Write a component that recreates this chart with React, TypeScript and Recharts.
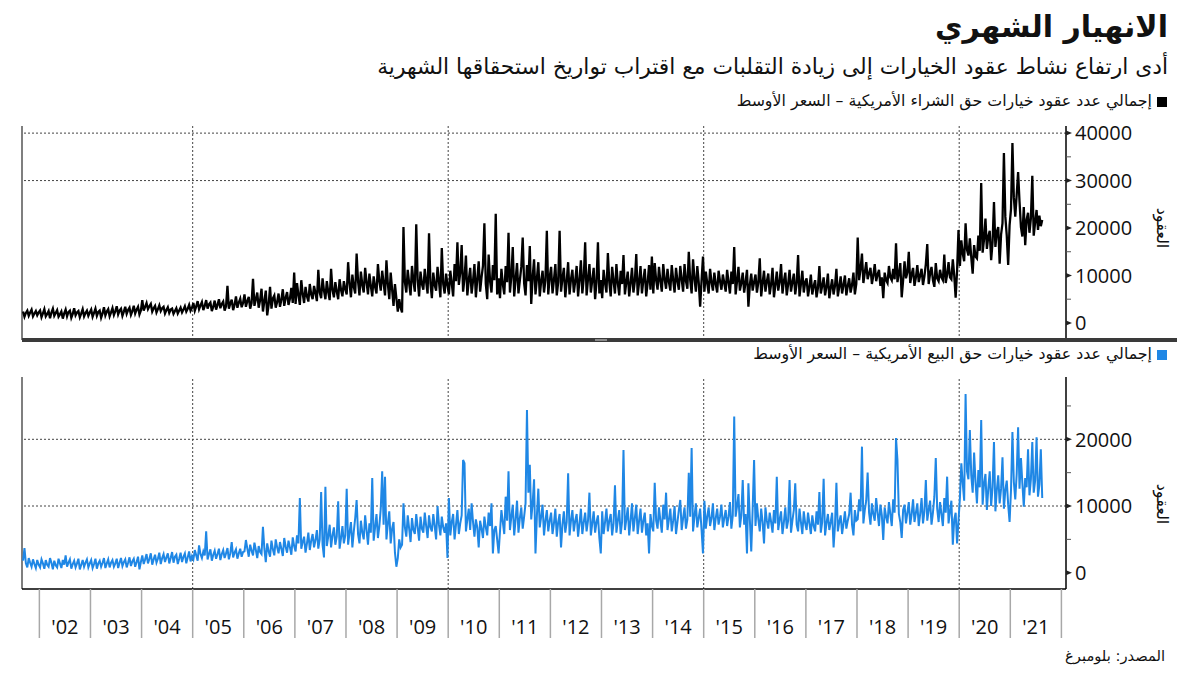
import { LineChart, Line, XAxis, YAxis, ReferenceLine } from 'recharts'

const AR = '"DejaVu Sans", "Noto Sans", sans-serif'
const NUM = '"Open Sans", "DejaVu Sans", sans-serif'

// three readings a month (thousands of contracts); the series begins in September 2001
const FIRST_YEAR = 2001
const FIRST_SLOT = 24
const SLOTS_PER_YEAR = 36

const callsByYear: number[][] = [
  [2.4, 1.3, 2.1, 2.6, 1.5, 2.2, 2.8, 1.4, 2.0, 2.5, 1.6, 2.2],
  [2.6, 1.2, 2.0, 2.9, 1.4, 1.9, 2.5, 1.0, 2.2, 3.0, 1.5, 2.1,
   2.7, 1.3, 1.8, 2.4, 0.9, 2.0, 2.8, 1.4, 2.3, 2.6, 1.1, 1.9,
   3.1, 1.6, 2.2, 2.5, 1.2, 2.0, 2.9, 1.4, 2.1, 2.6, 1.5, 2.2],
  [2.8, 1.3, 2.1, 3.0, 1.5, 2.3, 2.6, 1.1, 2.0, 3.3, 1.6, 2.4,
   2.9, 1.4, 2.2, 3.1, 1.7, 2.5, 3.5, 1.8, 2.6, 3.0, 1.5, 2.4,
   3.4, 1.9, 2.7, 3.2, 1.7, 2.5, 3.6, 2.0, 2.8, 3.4, 1.8, 2.6],
  [4.8, 2.6, 3.4, 4.2, 2.9, 3.5, 4.0, 2.4, 3.1, 3.6, 2.2, 2.9,
   3.7, 2.5, 3.1, 3.4, 2.0, 2.7, 3.3, 2.1, 2.8, 3.0, 1.9, 2.5,
   3.1, 2.0, 2.6, 3.2, 2.2, 2.8, 3.5, 2.4, 3.0, 3.8, 2.6, 3.2],
  [4.2, 2.6, 3.5, 4.6, 2.9, 3.7, 4.4, 2.7, 3.6, 4.8, 3.0, 3.9,
   4.3, 2.5, 3.4, 4.7, 2.8, 3.8, 5.0, 3.1, 4.0, 4.5, 2.6, 3.5,
   7.8, 3.0, 4.1, 4.9, 2.7, 3.8, 5.6, 3.2, 4.3, 5.1, 3.3, 4.2],
  [6.0, 3.4, 4.6, 5.5, 3.0, 4.2, 9.3, 3.6, 5.0, 6.4, 3.2, 4.8,
   7.2, 2.4, 4.6, 6.8, 1.6, 3.8, 7.6, 3.0, 5.2, 5.8, 3.2, 4.4,
   6.2, 3.4, 4.9, 7.1, 3.6, 5.3, 6.5, 3.8, 5.1, 7.4, 4.2, 10.6],
  [4.0, 8.4, 5.9, 3.8, 9.0, 6.2, 4.2, 7.6, 5.6, 4.5, 8.2, 6.0,
   5.0, 7.8, 6.3, 4.6, 11.2, 6.4, 5.2, 9.4, 6.8, 5.0, 8.8, 6.5,
   4.8, 11.4, 6.9, 5.4, 8.6, 6.6, 5.0, 9.2, 7.0, 5.6, 8.8, 7.1],
  [6.0, 12.8, 8.4, 5.4, 10.2, 7.6, 6.2, 14.6, 8.8, 5.8, 10.8, 8.0,
   6.4, 11.6, 8.6, 6.0, 10.4, 7.8, 5.6, 9.8, 7.6, 6.2, 12.4, 8.8,
   6.8, 11.0, 8.4, 5.8, 13.2, 8.2, 5.0, 10.6, 7.0, 3.6, 8.2, 5.2],
  [2.4, 5.0, 3.2, 2.2, 20.2, 8.6, 6.4, 11.2, 8.4, 5.8, 12.0, 8.8,
   6.6, 20.8, 9.0, 5.6, 10.8, 8.2, 7.0, 11.4, 8.6, 6.2, 18.9, 8.4,
   5.2, 10.6, 8.0, 6.8, 11.8, 8.8, 5.4, 15.8, 8.2, 6.2, 10.4, 8.0],
  [6.0, 11.0, 8.4, 5.6, 12.4, 8.8, 17.0, 8.0, 10.6, 16.4, 6.6, 9.4,
   14.2, 5.8, 9.0, 11.6, 6.2, 8.8, 12.4, 5.4, 9.2, 13.0, 6.6, 9.6,
   12.0, 21.0, 8.2, 5.0, 14.4, 8.8, 6.4, 12.2, 9.0, 23.0, 6.0, 9.4],
  [5.2, 11.4, 8.2, 6.0, 12.0, 8.6, 19.0, 6.4, 9.8, 16.0, 5.6, 9.2,
   12.6, 6.2, 9.0, 11.8, 18.0, 8.4, 5.8, 12.2, 8.8, 16.2, 4.0, 9.6,
   13.4, 6.0, 9.4, 12.8, 5.6, 8.8, 11.0, 6.4, 9.0, 19.4, 6.0, 9.6],
  [11.8, 6.2, 9.0, 12.4, 5.8, 8.6, 19.4, 6.6, 9.4, 11.6, 5.4, 8.8,
   12.8, 6.0, 9.2, 11.2, 6.4, 8.8, 12.0, 5.6, 9.0, 13.2, 6.2, 9.4,
   17.0, 5.8, 9.2, 12.4, 6.4, 9.0, 11.6, 5.0, 8.6, 17.0, 6.2, 9.0],
  [5.2, 11.2, 8.4, 6.4, 14.7, 8.6, 5.6, 11.8, 8.8, 6.2, 12.4, 8.4,
   5.8, 11.0, 8.2, 14.3, 6.0, 8.6, 10.8, 5.6, 8.4, 11.6, 6.4, 8.8,
   14.5, 5.8, 8.6, 12.0, 6.2, 9.0, 11.4, 5.6, 8.4, 12.2, 7.0, 14.0],
  [6.2, 12.6, 9.0, 7.0, 11.8, 8.8, 6.6, 12.4, 9.2, 7.2, 11.4, 8.6,
   6.8, 12.2, 9.0, 6.4, 11.6, 8.8, 7.0, 12.0, 9.2, 6.6, 12.4, 8.8,
   7.2, 15.0, 9.0, 6.2, 13.4, 9.4, 6.6, 12.0, 8.6, 3.4, 9.0, 14.0],
  [6.6, 10.8, 8.4, 6.2, 11.4, 8.6, 6.8, 10.6, 8.2, 6.4, 11.0, 8.8,
   7.0, 10.2, 8.4, 6.6, 11.2, 8.6, 6.2, 10.8, 8.2, 16.0, 6.0, 8.8,
   11.8, 6.8, 8.4, 10.6, 6.4, 8.6, 11.2, 3.4, 8.0, 10.4, 6.8, 8.6],
  [10.2, 6.4, 8.6, 13.6, 5.6, 8.4, 11.0, 6.6, 8.8, 10.4, 6.0, 8.2,
   11.6, 5.4, 8.0, 10.8, 6.8, 8.6, 12.4, 6.2, 8.8, 10.6, 5.8, 8.2,
   11.2, 6.6, 8.6, 10.4, 6.0, 8.4, 14.3, 5.6, 8.2, 11.0, 6.4, 8.6],
  [9.4, 5.6, 7.6, 10.2, 6.0, 7.8, 9.0, 5.4, 7.4, 12.0, 6.2, 7.8,
   9.6, 5.8, 7.6, 10.4, 5.2, 7.4, 9.2, 6.0, 7.8, 11.4, 5.6, 7.6,
   9.8, 6.2, 8.0, 10.0, 5.8, 7.8, 9.4, 6.4, 8.0, 10.6, 6.0, 8.2],
  [18.0, 9.0, 11.4, 14.6, 8.4, 10.6, 12.8, 9.2, 10.4, 11.6, 8.2, 10.0,
   12.4, 8.8, 10.2, 11.2, 7.8, 9.6, 5.2, 10.6, 9.0, 8.4, 12.0, 9.6,
   9.0, 11.4, 9.2, 16.8, 8.6, 10.4, 12.6, 5.4, 9.0, 13.0, 9.4, 10.6],
  [15.0, 8.4, 10.2, 11.6, 7.8, 9.6, 12.2, 8.6, 10.0, 11.4, 8.0, 9.8,
   12.4, 16.6, 8.2, 10.4, 11.8, 9.0, 7.6, 12.6, 9.4, 8.8, 11.2, 9.6,
   9.0, 14.4, 8.4, 10.2, 12.8, 9.6, 9.2, 13.4, 10.0, 5.3, 11.0, 19.6],
  [12.0, 17.4, 14.6, 13.0, 21.0, 15.4, 14.2, 17.8, 13.8, 10.4, 16.4, 14.0,
   13.6, 18.4, 15.2, 29.5, 14.8, 17.6, 22.0, 15.6, 18.2, 19.4, 13.2, 17.0,
   25.5, 16.0, 19.2, 20.2, 12.5, 18.6, 21.0, 35.8, 22.4, 18.4, 12.2, 20.6],
  [24.0, 37.9, 26.4, 22.4, 27.0, 31.8, 25.6, 20.2, 18.2, 24.4, 16.4, 21.8,
   23.2, 19.0, 22.0, 31.0, 18.4, 21.2, 23.8, 19.6, 22.6, 20.4, 21.7],
]

const putsByYear: number[][] = [
  [1.8, 3.7, 1.4, 0.8, 2.2, 1.5, 0.9, 2.0, 1.3, 0.7, 1.9, 1.2],
  [0.8, 2.0, 1.4, 0.6, 1.9, 1.2, 0.9, 2.2, 1.5, 0.5, 1.8, 1.1,
   0.8, 2.1, 1.4, 0.7, 1.9, 1.2, 2.6, 0.9, 1.5, 2.0, 0.6, 1.3,
   1.8, 0.8, 1.4, 2.1, 0.5, 1.2, 1.9, 0.9, 1.5, 2.0, 0.8, 1.4],
  [1.9, 0.7, 1.3, 2.1, 0.6, 1.4, 1.8, 0.9, 1.5, 2.2, 0.7, 1.4,
   2.0, 0.8, 1.5, 1.9, 0.9, 1.4, 2.1, 0.7, 1.5, 2.2, 1.0, 1.6,
   2.0, 0.8, 1.5, 2.3, 1.0, 1.7, 2.1, 0.9, 1.6, 2.4, 0.5, 1.6],
  [2.6, 1.3, 2.0, 2.8, 1.4, 2.1, 2.9, 1.2, 2.0, 2.7, 1.5, 2.1,
   3.0, 1.3, 2.2, 2.8, 1.6, 2.3, 2.9, 1.4, 2.2, 3.1, 1.5, 2.4,
   2.7, 1.3, 2.1, 3.0, 1.6, 2.4, 2.9, 1.4, 2.3, 3.2, 1.7, 2.5],
  [2.0, 3.4, 2.6, 1.8, 4.1, 2.8, 2.2, 3.2, 2.6, 6.2, 2.0, 2.8,
   3.5, 1.8, 2.7, 3.3, 2.1, 2.8, 3.6, 1.9, 2.8, 3.4, 2.2, 2.9,
   3.7, 2.0, 2.9, 4.6, 2.3, 3.0, 3.5, 2.1, 2.9, 3.6, 2.4, 3.1],
  [3.2, 4.9, 3.6, 2.4, 4.2, 3.3, 2.6, 4.5, 3.4, 2.2, 4.0, 3.1,
   2.8, 6.9, 3.6, 1.6, 4.4, 3.2, 2.4, 4.8, 3.5, 2.6, 5.0, 3.8,
   2.9, 4.6, 3.6, 2.5, 5.2, 3.9, 3.0, 4.8, 3.8, 2.7, 5.3, 4.0],
  [3.2, 5.6, 4.4, 11.2, 3.6, 4.6, 5.4, 3.0, 4.4, 6.0, 3.4, 4.8,
   5.8, 3.8, 4.9, 6.4, 3.6, 5.0, 12.1, 4.2, 2.3, 12.9, 4.0, 5.4,
   7.2, 3.8, 5.6, 6.8, 4.2, 5.4, 10.7, 3.6, 5.2, 7.0, 4.4, 5.6],
  [12.6, 4.2, 6.0, 7.6, 3.8, 6.2, 8.2, 10.9, 5.8, 4.4, 7.8, 6.0,
   5.0, 8.6, 6.4, 4.2, 7.4, 6.0, 14.2, 4.8, 6.8, 8.8, 5.2, 7.0,
   9.6, 15.2, 7.2, 14.4, 5.0, 7.4, 9.2, 4.4, 6.6, 7.6, 3.0, 0.9],
  [2.2, 5.0, 3.8, 4.2, 10.4, 6.8, 5.4, 8.6, 6.6, 4.6, 8.2, 6.4,
   5.8, 8.8, 6.8, 4.8, 8.4, 6.6, 6.0, 9.0, 7.0, 5.2, 8.6, 6.8,
   6.2, 8.8, 7.0, 5.0, 10.0, 7.2, 5.6, 8.4, 6.8, 6.0, 7.4, 2.2],
  [11.2, 5.6, 7.6, 8.8, 5.0, 7.2, 9.4, 5.8, 7.4, 8.6, 16.9, 16.4,
   6.2, 8.0, 9.6, 6.4, 10.4, 7.6, 5.4, 8.0, 6.8, 3.8, 7.8, 6.6,
   5.2, 8.4, 6.8, 5.6, 9.0, 7.0, 10.4, 2.9, 6.4, 7.0, 5.0, 2.9],
  [6.2, 9.4, 7.6, 5.8, 11.4, 7.8, 15.2, 6.4, 8.4, 10.2, 5.6, 8.0,
   10.8, 6.0, 8.2, 9.8, 6.6, 8.4, 10.4, 24.4, 12.0, 16.2, 8.0, 10.4,
   14.0, 2.9, 8.6, 12.6, 6.8, 8.4, 10.2, 5.6, 7.8, 9.4, 6.2, 7.8],
  [9.0, 5.8, 7.4, 9.6, 5.4, 7.6, 8.8, 3.8, 7.2, 9.2, 6.0, 7.6,
   14.9, 5.6, 7.8, 9.4, 6.2, 7.8, 8.8, 5.4, 7.4, 9.6, 5.8, 7.6,
   9.0, 6.2, 7.8, 12.0, 5.6, 7.4, 9.2, 6.0, 7.6, 8.6, 5.2, 2.9],
  [9.2, 5.8, 7.6, 9.6, 6.2, 7.8, 8.8, 5.6, 7.4, 13.1, 6.0, 7.8,
   9.4, 5.8, 7.6, 18.4, 6.4, 8.0, 9.8, 5.6, 7.8, 10.4, 6.2, 8.2,
   10.2, 5.8, 7.8, 9.6, 6.0, 7.8, 9.0, 5.6, 7.4, 2.9, 8.8, 7.0],
  [6.2, 13.5, 7.8, 6.6, 9.8, 7.8, 6.0, 10.2, 8.0, 12.0, 6.4, 8.0,
   9.6, 6.2, 7.8, 10.0, 5.8, 7.6, 9.4, 10.9, 6.4, 8.2, 9.8, 6.6,
   8.0, 15.0, 8.4, 18.7, 6.2, 8.4, 10.4, 6.8, 8.2, 9.6, 6.4, 2.9],
  [10.8, 6.6, 8.4, 9.8, 7.0, 8.2, 10.4, 6.4, 8.2, 9.6, 7.2, 8.4,
   10.2, 6.8, 8.2, 9.4, 7.0, 8.4, 10.6, 6.6, 8.6, 23.4, 8.4, 10.0,
   11.8, 6.8, 8.6, 13.9, 7.2, 8.8, 2.9, 13.4, 8.0, 3.2, 9.6, 16.9],
  [7.0, 10.4, 8.0, 6.2, 9.6, 7.6, 4.4, 9.8, 7.8, 6.6, 9.0, 7.6,
   6.0, 9.4, 7.4, 14.4, 6.4, 8.0, 9.2, 5.8, 7.6, 9.8, 6.6, 7.8,
   13.9, 6.0, 7.8, 9.4, 13.4, 7.2, 6.2, 9.6, 7.6, 5.8, 9.2, 7.4],
  [6.4, 9.0, 7.4, 5.8, 8.6, 7.0, 6.2, 9.2, 7.2, 12.1, 6.0, 7.6,
   14.1, 5.6, 7.4, 8.8, 6.4, 7.6, 9.0, 3.8, 7.2, 13.5, 6.2, 7.6,
   8.6, 5.8, 7.4, 9.2, 6.6, 7.8, 8.8, 12.0, 7.2, 5.6, 9.4, 7.8],
  [8.0, 11.0, 9.2, 18.9, 7.4, 9.4, 10.8, 15.0, 9.0, 7.2, 10.4, 8.8,
   7.8, 11.2, 9.0, 7.0, 10.2, 8.6, 4.9, 9.8, 8.4, 7.4, 10.6, 8.8,
   7.0, 11.0, 9.0, 20.2, 16.9, 8.8, 7.6, 5.2, 9.4, 10.2, 7.4, 9.0],
  [10.6, 7.2, 8.8, 11.0, 7.6, 9.0, 10.4, 7.0, 8.8, 11.2, 7.4, 9.2,
   13.9, 7.8, 9.4, 10.8, 7.2, 9.0, 11.4, 17.2, 9.6, 7.6, 10.6, 8.8,
   7.0, 11.2, 9.0, 14.4, 7.4, 9.2, 10.8, 4.2, 8.0, 9.0, 4.4, 7.8],
  [11.2, 16.4, 13.4, 10.8, 26.8, 15.2, 14.0, 21.4, 14.6, 12.0, 18.0, 13.6,
   10.4, 15.4, 12.8, 22.9, 10.2, 13.4, 14.8, 9.4, 12.6, 15.2, 10.0, 12.8,
   19.6, 9.2, 12.4, 14.6, 10.4, 12.6, 17.3, 9.6, 12.4, 13.8, 10.2, 7.6],
  [12.4, 21.1, 13.6, 11.0, 14.8, 21.8, 12.6, 17.2, 13.4, 9.9, 14.2, 12.8,
   18.5, 11.6, 14.0, 19.6, 12.0, 13.8, 20.3, 11.4, 13.2, 18.5, 11.2],
]

const callTicks = [0, 5, 10, 15, 20, 25, 30, 35, 40]
const callLabels = [0, 10, 20, 30, 40]
const callGrid = [30, 40]
const putTicks = [0, 5, 10, 15, 20, 25]
const putLabels = [0, 10, 20]
const putGrid = [10, 20]
const yearLines = [2005, 2010, 2015, 2020]
const yearTicks = [2002, 2003, 2004, 2005, 2006, 2007, 2008, 2009, 2010, 2011, 2012, 2013, 2014, 2015, 2016, 2017, 2018, 2019, 2020, 2021, 2022]
const yearLabels = ["'02", "'03", "'04", "'05", "'06", "'07", "'08", "'09", "'10", "'11", "'12", "'13", "'14", "'15", "'16", "'17", "'18", "'19", "'20", "'21"]

const X_DOMAIN: [number, number] = [2001.66, 2022.09]

function toRows(byYear: number[][]) {
  const rows: { t: number; v: number }[] = []
  byYear.forEach((vals, k) => {
    const start = k === 0 ? FIRST_SLOT : 0
    vals.forEach((v, i) => rows.push({ t: FIRST_YEAR + k + (start + i + 0.5) / SLOTS_PER_YEAR, v }))
  })
  return rows
}

const callRows = toRows(callsByYear)
const putRows = toRows(putsByYear)
const xTicks = yearTicks.flatMap((y, i) => (i < yearLabels.length ? [y, y + 0.5] : [y]))

function ValueTick(props: any) {
  const { x, y, payload, labels } = props
  const v = payload.value
  if (!labels.includes(v)) {
    return <line x1={x} x2={x + 5} y1={y} y2={y} stroke="#555" strokeWidth={1} />
  }
  return (
    <g>
      <path d={`M${x},${y - 2.5}L${x + 6},${y}L${x},${y + 2.5}Z`} fill="#222" />
      <text x={x + 9} y={y} dy="0.36em" fontFamily={NUM} fontSize={20} fill="#111">
        {v * 1000}
      </text>
    </g>
  )
}

function YearTick(props: any) {
  const { x, y, payload } = props
  const v = payload.value
  if (Number.isInteger(v)) {
    return <line x1={x} x2={x} y1={y} y2={y + 49} stroke="#a8a8a8" strokeWidth={1.5} />
  }
  return (
    <text x={x} y={y + 45} textAnchor="middle" fontFamily={NUM} fontSize={20} fill="#111">
      {yearLabels[Math.floor(v) - yearTicks[0]]}
    </text>
  )
}

const dotted = { stroke: '#444', strokeDasharray: '2 2', strokeWidth: 1 }

function Panel({ rows, color, width, domain, ticks, labels, grid, height, top, bottom, showX }: any) {
  return (
    <LineChart width={1200} height={height} data={rows} margin={{ top, right: 34, bottom, left: 22 }}>
      <XAxis
        type="number"
        dataKey="t"
        domain={X_DOMAIN}
        allowDataOverflow
        hide={!showX}
        ticks={xTicks}
        interval={0}
        tickSize={0}
        tickMargin={0}
        tick={<YearTick />}
        height={60}
        axisLine={{ stroke: '#000', strokeWidth: 1.5 }}
        tickLine={false}
      />
      <YAxis
        orientation="right"
        width={100}
        domain={domain}
        allowDataOverflow
        ticks={ticks}
        interval={0}
        tickSize={0}
        tickMargin={0}
        tickLine={false}
        axisLine={{ stroke: '#000', strokeWidth: 1.5 }}
        tick={(p: any) => <ValueTick {...p} labels={labels} />}
      />
      <ReferenceLine x={X_DOMAIN[0]} stroke="#555" strokeWidth={1.5} />
      {grid.map((g: number) => (
        <ReferenceLine key={'g' + g} y={g} {...dotted} />
      ))}
      {yearLines.map((yr) => (
        <ReferenceLine key={'y' + yr} x={yr} {...dotted} />
      ))}
      <Line type="linear" dataKey="v" stroke={color} strokeWidth={width} strokeLinejoin="miter" dot={false} isAnimationActive={false} />
    </LineChart>
  )
}

const abs = (s: any) => ({ position: 'absolute' as const, whiteSpace: 'nowrap' as const, ...s })

export default function App() {
  return (
    <div style={{ position: 'relative', width: 1200, height: 675, margin: -8, background: '#fff', overflow: 'hidden', fontFamily: AR, color: '#111' }}>
      <div dir="rtl" style={abs({ right: 32, top: 7, fontSize: 30, fontWeight: 700, lineHeight: '40px' })}>الانهيار الشهري</div>
      <div dir="rtl" style={abs({ right: 32, top: 53, fontSize: 21.8, lineHeight: '28px' })}>
        أدى ارتفاع نشاط عقود الخيارات إلى زيادة التقلبات مع اقتراب تواريخ استحقاقها الشهرية
      </div>

      <div style={abs({ left: 1157, top: 97, width: 10, height: 10, background: '#000' })} />
      <div dir="rtl" style={abs({ right: 48, top: 91, fontSize: 15.8, lineHeight: '20px' })}>
        إجمالي عدد عقود خيارات حق الشراء الأمريكية – السعر الأوسط
      </div>

      <div style={abs({ left: 0, top: 120 })}>
        <Panel rows={callRows} color="#000" width={2.3} domain={[-3.6, 41.5]} ticks={callTicks} labels={callLabels} grid={callGrid} height={226} top={6} bottom={6} showX={false} />
      </div>
      <div dir="rtl" style={abs({ left: 1162, top: 228, fontSize: 16, transform: 'translate(-50%, -50%) rotate(90deg)' })}>العقود</div>

      <div style={abs({ left: 22, top: 338, width: 1155, height: 4, background: '#3a3a3a' })} />
      <div style={abs({ left: 595, top: 339, width: 12, height: 2, background: '#8a8a8a' })} />

      <div style={abs({ left: 1157, top: 350, width: 10, height: 10, background: '#1f87e5' })} />
      <div dir="rtl" style={abs({ right: 48, top: 344, fontSize: 15.8, lineHeight: '20px' })}>
        إجمالي عدد عقود خيارات حق البيع الأمريكية – السعر الأوسط
      </div>

      <div style={abs({ left: 0, top: 370 })}>
        <Panel rows={putRows} color="#1f87e5" width={2} domain={[-2.44, 29.34]} ticks={putTicks} labels={putLabels} grid={putGrid} height={300} top={7} bottom={21} showX />
      </div>
      <div dir="rtl" style={abs({ left: 1162, top: 504, fontSize: 16, transform: 'translate(-50%, -50%) rotate(90deg)' })}>العقود</div>

      <div dir="rtl" style={abs({ right: 35, top: 646, fontSize: 14.7, lineHeight: '20px' })}>المصدر: بلومبرغ</div>
    </div>
  )
}
